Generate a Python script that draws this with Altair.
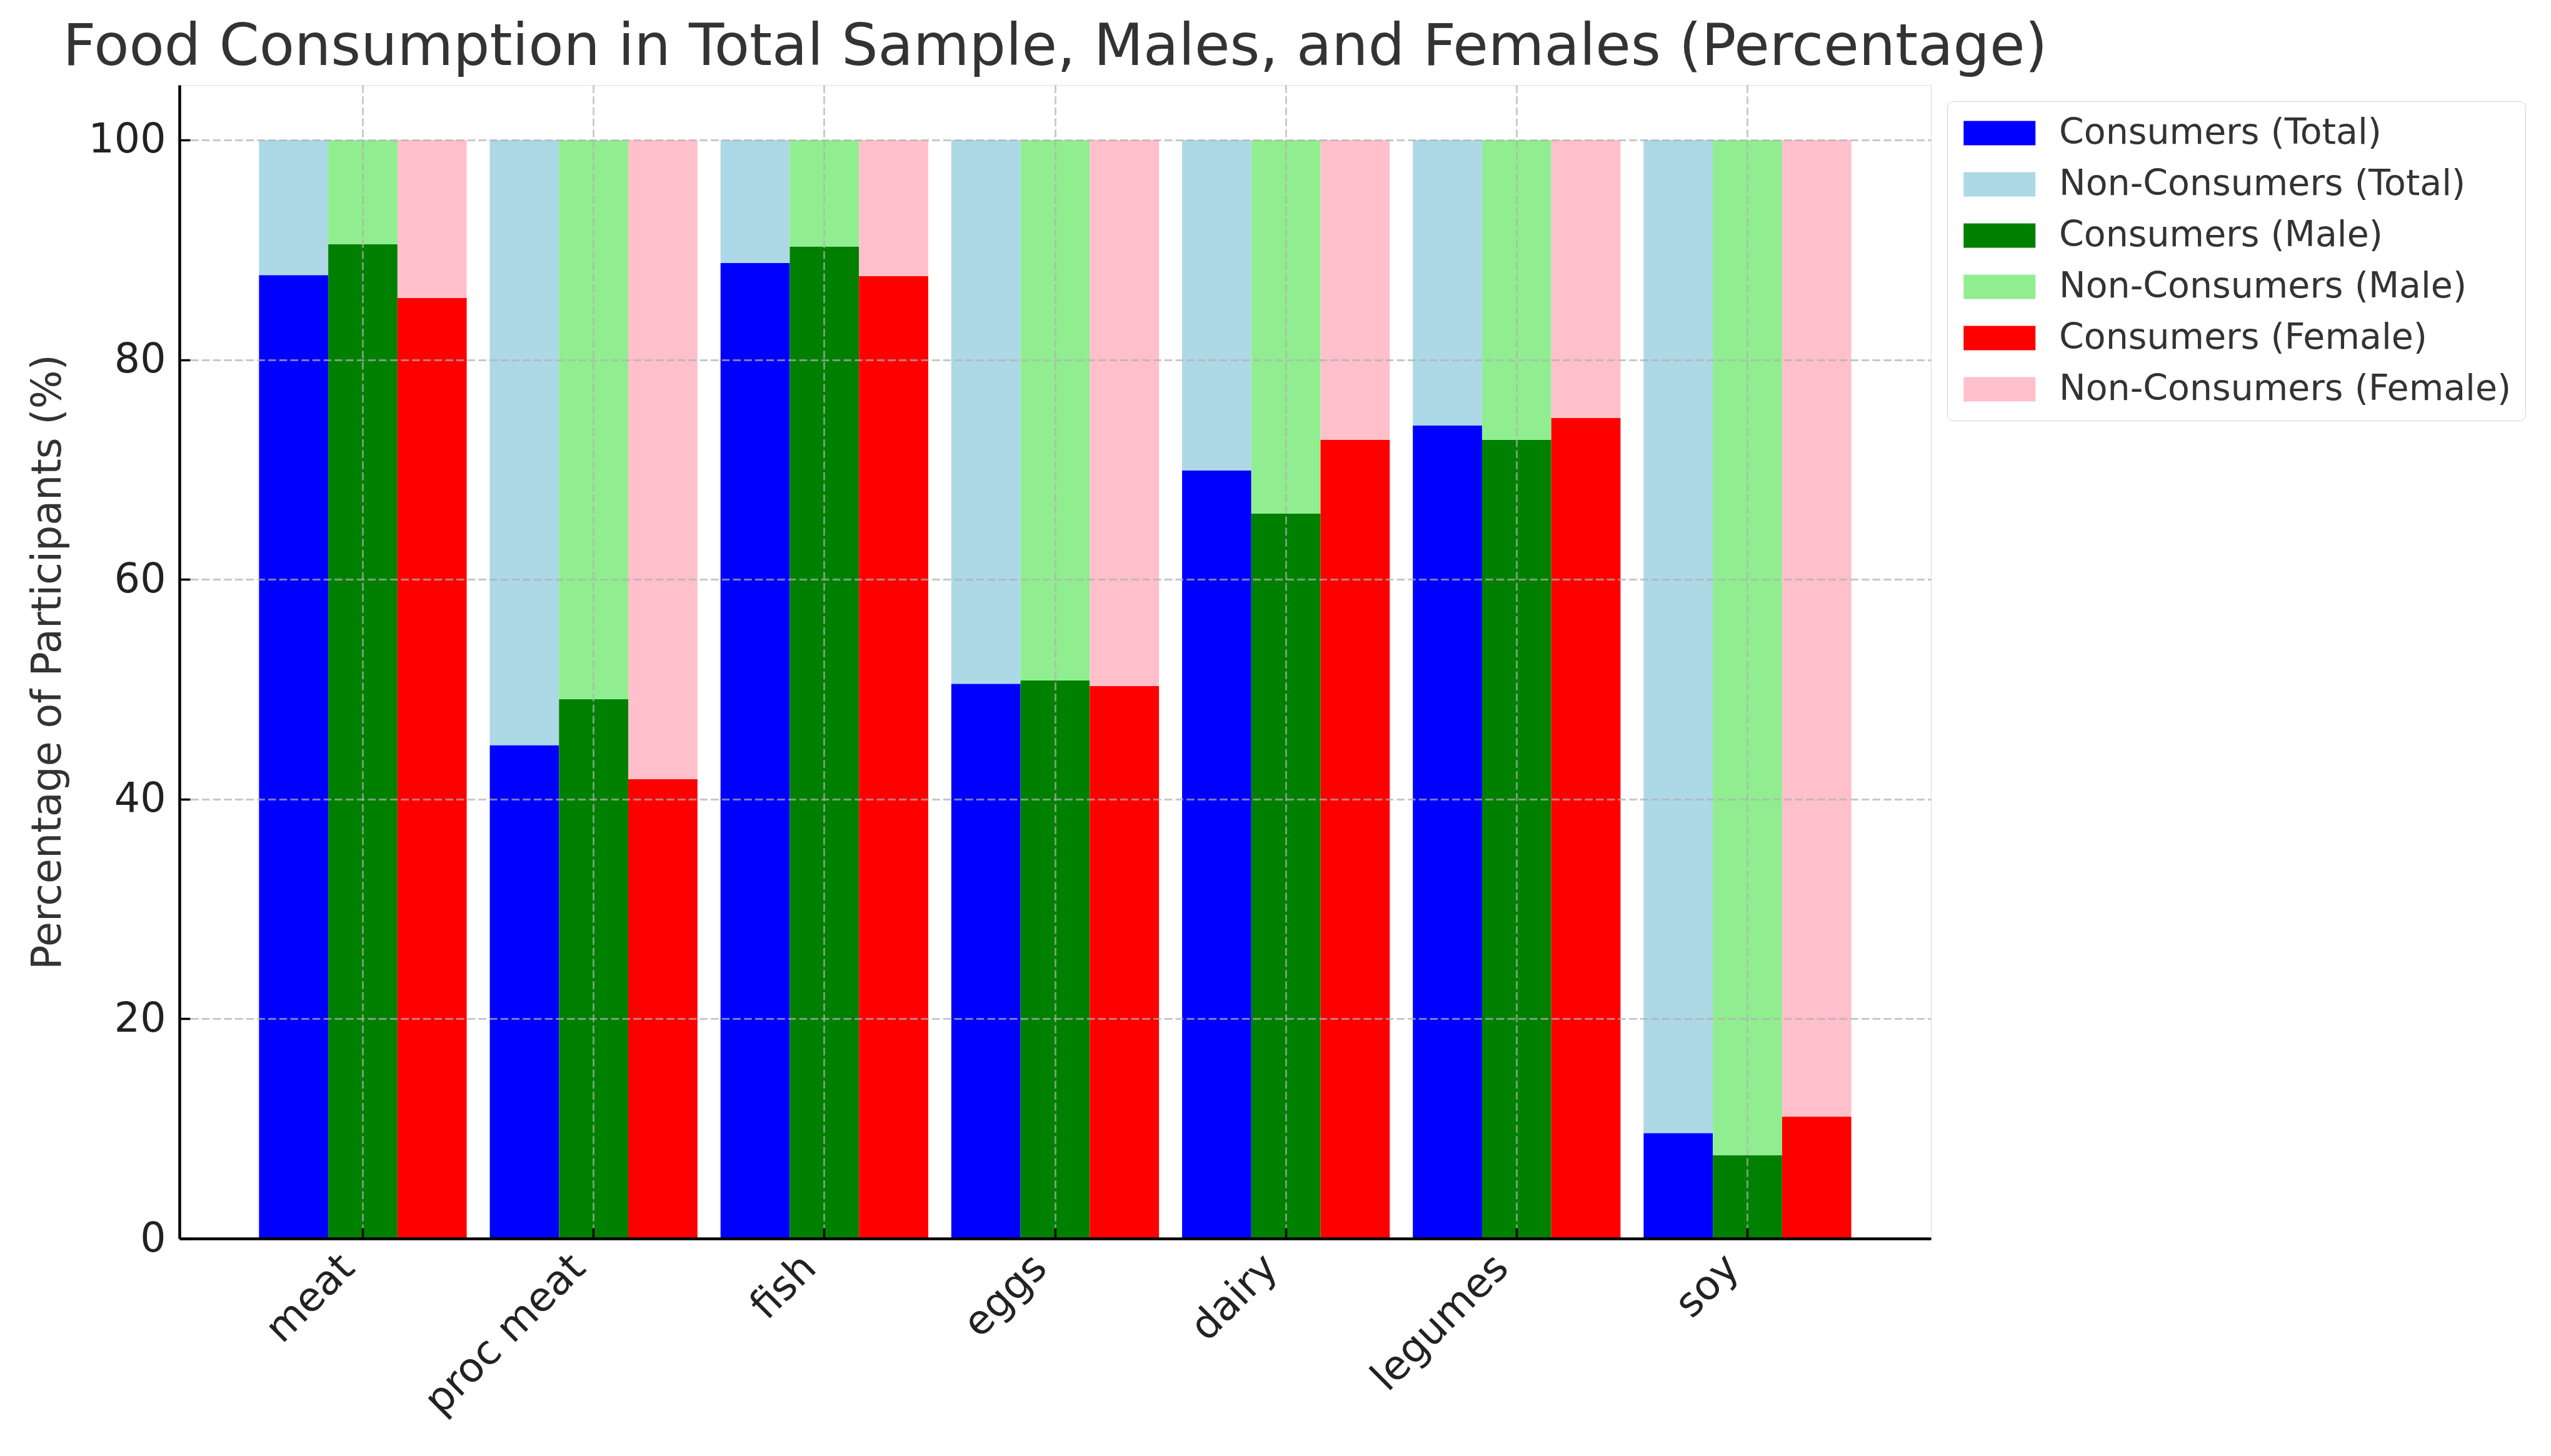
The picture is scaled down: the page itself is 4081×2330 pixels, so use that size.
import altair as alt
import pandas as pd

foods = ["meat", "proc meat", "fish", "eggs", "dairy", "legumes", "soy"]
groups = ["Total", "Male", "Female"]
consumers_total = [87.7, 44.9, 88.8, 50.5, 69.9, 74.0, 9.6]
consumers_male = [90.5, 49.1, 90.3, 50.8, 66.0, 72.7, 7.6]
consumers_female = [85.6, 41.8, 87.6, 50.3, 72.7, 74.7, 11.1]
y_ticks = [0, 20, 40, 60, 80, 100]

series_order = [
    "Consumers (Total)", "Non-Consumers (Total)",
    "Consumers (Male)", "Non-Consumers (Male)",
    "Consumers (Female)", "Non-Consumers (Female)",
]
series_colors = ["#0000ff", "#add8e6", "#008000", "#90ee90", "#ff0000", "#ffc0cb"]

rows = []
for g, vals in zip(groups, [consumers_total, consumers_male, consumers_female]):
    for f, v in zip(foods, vals):
        rows.append(dict(food=f, group=g, series=f"Consumers ({g})", start=0.0, end=v))
        rows.append(dict(food=f, group=g, series=f"Non-Consumers ({g})", start=v, end=100.0))
df = pd.DataFrame(rows)

FONT = "DejaVu Sans"
grid_kw = dict(gridDash=[12.5, 5.2], gridColor="#b0b0b0", gridWidth=2.8, gridOpacity=0.7)
x_scale = alt.Scale(paddingInner=0.1, paddingOuter=0.345)
y_scale = alt.Scale(domain=[0, 105], nice=False)
off_scale = alt.Scale(paddingInner=0, paddingOuter=0)

bars = alt.Chart(df).mark_bar(strokeWidth=0).encode(
    x=alt.X(
        "food:N", sort=foods, scale=x_scale,
        axis=alt.Axis(
            title=None, orient="bottom", labelAngle=-45, labelAlign="right", labelBaseline="top",
            labelFontSize=65, labelFont=FONT, labelColor="#222", labelPadding=14,
            labelLimit=0, labelOffset=-46,
            grid=True, bandPosition=0.5, tickSize=0, domainColor="#000", domainWidth=4.5,
            zindex=1, **grid_kw,
        ),
    ),
    xOffset=alt.XOffset("group:N", sort=groups, scale=off_scale),
    y=alt.Y(
        "start:Q", scale=y_scale,
        axis=alt.Axis(
            values=y_ticks, title="Percentage of Participants (%)", orient="left",
            labelFontSize=65, labelFont=FONT, labelColor="#222", labelPadding=22,
            titleFontSize=65, titleFont=FONT, titleFontWeight="normal", titleColor="#333",
            titlePadding=30, tickSize=0, domainColor="#000", domainWidth=4.5,
            grid=True, zindex=1, **grid_kw,
        ),
    ),
    y2="end:Q",
    color=alt.Color(
        "series:N",
        scale=alt.Scale(domain=series_order, range=series_colors),
        legend=alt.Legend(
            title=None, orient="none", legendX=2828, legendY=26,
            symbolType="M-0.86,-0.68L3.14,-0.68L3.14,0.68L-0.86,0.68Z", symbolSize=3306,
            symbolStrokeWidth=0, symbolOpacity=1,
            labelFontSize=57, labelFont=FONT, labelColor="#333", labelOffset=99,
            labelLimit=0,
            rowPadding=25, padding=22, strokeColor="#d0d0d0", fillColor="white",
            cornerRadius=10,
        ),
    ),
)

# invisible layer carrying the inward-pointing tick marks
ticks = alt.Chart(df).mark_bar(opacity=0).encode(
    x=alt.X(
        "food:N", sort=foods, scale=x_scale,
        axis=alt.Axis(
            title=None, orient="bottom", labels=False, domain=False, grid=False,
            ticks=True, tickSize=17, tickWidth=3.5, tickColor="#000",
            offset=-17, bandPosition=0.5, zindex=2,
        ),
    ),
    xOffset=alt.XOffset("group:N", sort=groups, scale=off_scale),
    y=alt.Y(
        "start:Q", scale=y_scale,
        axis=alt.Axis(
            values=y_ticks, title=None, orient="left", labels=False, domain=False,
            grid=False, ticks=True, tickSize=17, tickWidth=3.5, tickColor="#000",
            offset=-17, zindex=2,
        ),
    ),
    y2="end:Q",
)

chart = alt.layer(bars, ticks).resolve_axis(x="independent", y="independent").properties(
    width=2802,
    height=1846,
    title=alt.TitleParams(
        "Food Consumption in Total Sample, Males, and Females (Percentage)",
        fontSize=92, font=FONT, fontWeight="normal", color="#333",
        anchor="middle", frame="group", offset=13,
    ),
    padding={"left": 36, "top": 22, "right": 10, "bottom": 10},
).configure_view(strokeWidth=0).configure_legend(strokeWidth=3).configure(font=FONT)

chart.save("out.html", embed_options={"renderer": "svg", "actions": False})
